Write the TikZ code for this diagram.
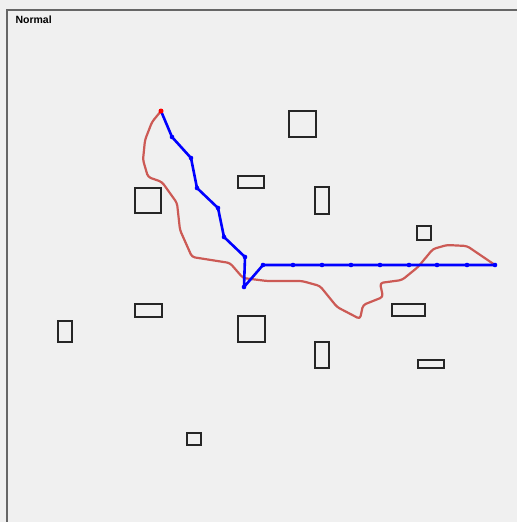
\documentclass[tikz,border=0pt]{standalone}
\usepackage{fontspec}
\setmainfont{Liberation Sans}
\usepackage{xcolor}
\definecolor{panel}{HTML}{F0F0F0}
\definecolor{pathred}{HTML}{CC5A55}
\usetikzlibrary{positioning}

\begin{document}
\begin{tikzpicture}[
    x=1pt, y=-1pt,
    obst/.style={draw=black!85, line width=2.3pt},
    route/.style={draw=blue, line width=2.6pt, line join=round},
    trace/.style={draw=pathred, line width=2.2pt, line join=round, rounded corners=3pt},
    waypt/.style={circle, fill=blue, inner sep=0pt, minimum size=4.6pt}
]
\useasboundingbox (0,0) rectangle (517,522);
\fill[panel] (0,0) rectangle (517,522);
\draw[black!60, line width=2pt] (7,522) -- (7,9.5) -- (517,9.5);
\node[anchor=west, font=\bfseries\fontsize{10.5}{12}\selectfont] (title) at (12,19.5) {Normal};

% obstacles
\foreach \xa/\ya/\xb/\yb in {135/188/161/213, 238/176/264/188, 289/111/316/137,
    315/187/329/214, 417/226/431/240, 135/304/162/317, 58/321/72/342,
    238/316/265/342, 315/342/329/368, 392/304/425/316, 418/360/444/368,
    187/433/201/445}
  \draw[obst] (\xa,\ya) rectangle (\xb,\yb);

% smoothed trace
\draw[trace] (161,111) -- (152,122) -- (145,140) -- (143,160) -- (148,177)
  -- (162,182) -- (177,203) -- (180,230) -- (192,257) -- (230,263)
  -- (243,278) -- (267,281) -- (302,281) -- (320,286) -- (337,307)
  -- (360,319) -- (363,305) -- (383,297) -- (380,283) -- (402,280)
  -- (418,267) -- (433,249) -- (447,245) -- (467,246) -- (495,265);

% planned route
\draw[route] (161,111) -- (172,137) -- (191,158) -- (197,188) -- (218,208)
  -- (224,237) -- (245,257) -- (244,287) -- (263,265) -- (495,265);
\foreach \p in {(172,137), (191,158), (197,188), (218,208), (224,237),
    (245,257), (244,287), (263,265)}
  \node[waypt] at \p {};
\foreach \xx in {293,322,351,380,409,437,467,495}
  \node[waypt] at (\xx,265) {};
\node[circle, fill=red, inner sep=0pt, minimum size=5pt] (start) at (161,111) {};
\end{tikzpicture}
\end{document}
